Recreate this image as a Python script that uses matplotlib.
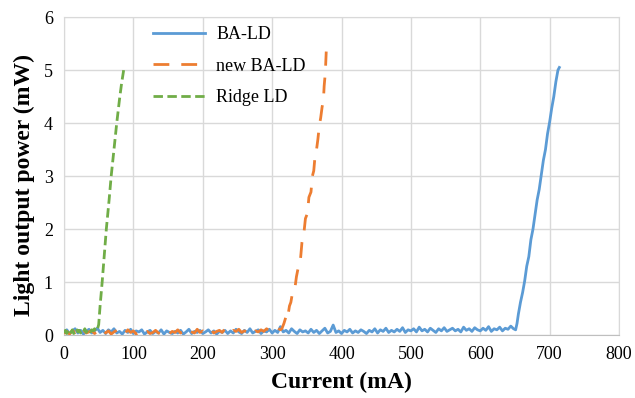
import numpy as np
import matplotlib.pyplot as plt

plt.rcParams['font.family'] = ['Liberation Serif', 'DejaVu Serif']

# sub-threshold readings, 4 mA steps from 0 mA
ba_base = [0.05, 0.10, 0.03, 0.08, 0.12, 0.04, 0.09, 0.02, 0.07, 0.11,
           0.04, 0.08, 0.13, 0.05, 0.09, 0.03, 0.10, 0.06, 0.12, 0.04,
           0.07, 0.02, 0.09, 0.05, 0.11, 0.03, 0.08, 0.06, 0.10, 0.02,
           0.06, 0.09, 0.03, 0.07, 0.04, 0.10, 0.02, 0.08, 0.05, 0.03,
           0.07, 0.04, 0.09, 0.02, 0.06, 0.11, 0.03, 0.07, 0.05, 0.09,
           0.03, 0.06, 0.10, 0.04, 0.08, 0.02, 0.07, 0.05, 0.09, 0.03,
           0.08, 0.04, 0.11, 0.06, 0.03, 0.09, 0.05, 0.12, 0.04, 0.07,
           0.10, 0.03, 0.08, 0.06, 0.11, 0.04, 0.09, 0.05, 0.16, 0.06,
           0.09, 0.04, 0.12, 0.07, 0.03, 0.10, 0.06, 0.08, 0.04, 0.11,
           0.05, 0.09, 0.03, 0.08, 0.13, 0.04, 0.07, 0.19, 0.05, 0.08,
           0.03, 0.09, 0.06, 0.11, 0.04, 0.08, 0.05, 0.10, 0.07, 0.03,
           0.09, 0.06, 0.12, 0.04, 0.10, 0.07, 0.13, 0.05, 0.09, 0.06,
           0.11, 0.07, 0.14, 0.05, 0.10, 0.08, 0.12, 0.06, 0.15, 0.08,
           0.11, 0.06, 0.13, 0.09, 0.05, 0.12, 0.08, 0.14, 0.07, 0.10,
           0.13, 0.08, 0.11, 0.06, 0.15, 0.09, 0.12, 0.07, 0.14, 0.10,
           0.08, 0.13, 0.09, 0.16, 0.07, 0.12, 0.10, 0.15, 0.08, 0.13,
           0.11, 0.17, 0.12]
ba_ramp_i = [651, 653, 655, 658, 661, 664, 667, 670, 673, 676, 679, 682,
             685, 688, 691, 694, 697, 700, 703, 706, 709, 712, 714]
ba_ramp_p = [0.10, 0.22, 0.40, 0.62, 0.80, 1.02, 1.30, 1.48, 1.80, 2.00, 2.28, 2.55,
             2.75, 3.02, 3.30, 3.50, 3.80, 4.02, 4.28, 4.50, 4.78, 5.00, 5.05]

new_base = [0.03, 0.07, 0.02, 0.09, 0.05, 0.08, 0.03, 0.10, 0.04, 0.06,
            0.09, 0.03, 0.07, 0.05, 0.11, 0.04, 0.08, 0.02, 0.06, 0.09,
            0.04, 0.07, 0.03, 0.10, 0.05, 0.08, 0.02, 0.06, 0.09, 0.04,
            0.07, 0.03, 0.05, 0.09, 0.04, 0.02, 0.06, 0.08, 0.03, 0.07,
            0.05, 0.10, 0.04, 0.07, 0.03, 0.09, 0.06, 0.04, 0.11, 0.05,
            0.08, 0.03, 0.06, 0.10, 0.04, 0.07, 0.09, 0.05, 0.12, 0.06,
            0.04, 0.09, 0.07, 0.11, 0.05, 0.08, 0.06, 0.10, 0.04, 0.08,
            0.06, 0.10, 0.07, 0.12, 0.08, 0.11, 0.09, 0.13, 0.10]
new_ramp_i = [314, 317, 320, 322, 325, 327, 330, 333, 335, 338, 341, 343,
              346, 348, 351, 353, 356, 358, 360, 362, 364, 366, 368, 370,
              372, 374, 375, 376, 377, 378]
new_ramp_p = [0.12, 0.22, 0.35, 0.30, 0.55, 0.62, 0.85, 0.90, 1.10, 1.30, 1.45, 1.75,
              1.95, 2.20, 2.30, 2.60, 2.70, 3.00, 3.10, 3.40, 3.50, 3.70, 3.95, 4.10,
              4.30, 4.45, 4.70, 4.85, 5.05, 5.35]

ridge_base = [0.04, 0.09, 0.03, 0.08, 0.11, 0.05, 0.10, 0.03, 0.07, 0.12,
              0.06, 0.09, 0.04, 0.10, 0.07, 0.12, 0.05, 0.09, 0.11, 0.06,
              0.10, 0.08, 0.12, 0.07, 0.10]
ridge_ramp_i = [50, 52, 55, 58, 61, 65, 68, 72, 76, 80, 83, 86]
ridge_ramp_p = [0.20, 0.55, 1.00, 1.50, 2.00, 2.55, 3.00, 3.50, 4.00, 4.45, 4.75, 5.00]

blue = '#5b9bd5'
orange = '#ed7d31'
green = '#70ad47'

fig = plt.figure(figsize=(6.35, 3.98), dpi=100)
ax = fig.add_axes([0.1008, 0.158, 0.874, 0.799])

def sweep(base, step, ramp_i, ramp_p):
    i = list(np.arange(len(base)) * step) + ramp_i
    return np.array(i, dtype=float), np.array(base + ramp_p)

x, y = sweep(ba_base, 4, ba_ramp_i, ba_ramp_p)
ax.plot(x, y, color=blue, lw=2.0, label='BA-LD', zorder=3)
x, y = sweep(new_base, 4, new_ramp_i, new_ramp_p)
ax.plot(x, y, color=orange, lw=2.0, dashes=(5.7, 4.3), label='new BA-LD', zorder=4)
x, y = sweep(ridge_base, 2, ridge_ramp_i, ridge_ramp_p)
ax.plot(x, y, color=green, lw=2.0, dashes=(3.4, 1.6), label='Ridge LD', zorder=5)

ax.set_xlim(0, 800)
ax.set_ylim(0, 6)
ax.set_xticks(range(0, 801, 100))
ax.set_yticks(range(0, 7))
ax.grid(True, color='#d9d9d9', lw=1.0)
ax.set_axisbelow(True)
for s in ax.spines.values():
    s.set_color('#d9d9d9')
ax.spines['bottom'].set_color('#bfbfbf')
ax.tick_params(length=0, labelsize=13, pad=8)

ax.set_xlabel('Current (mA)', fontsize=17, fontweight='bold', labelpad=6)
ax.set_ylabel('Light output power (mW)', fontsize=17, fontweight='bold')
ax.yaxis.set_label_coords(-0.053, 0.472)

ax.legend(loc='upper left', bbox_to_anchor=(0.144, 1.0), frameon=False,
          fontsize=13, handlelength=2.9, handletextpad=0.6, labelspacing=0.8,
          borderpad=0)

fig.savefig('out.png', dpi=100)
